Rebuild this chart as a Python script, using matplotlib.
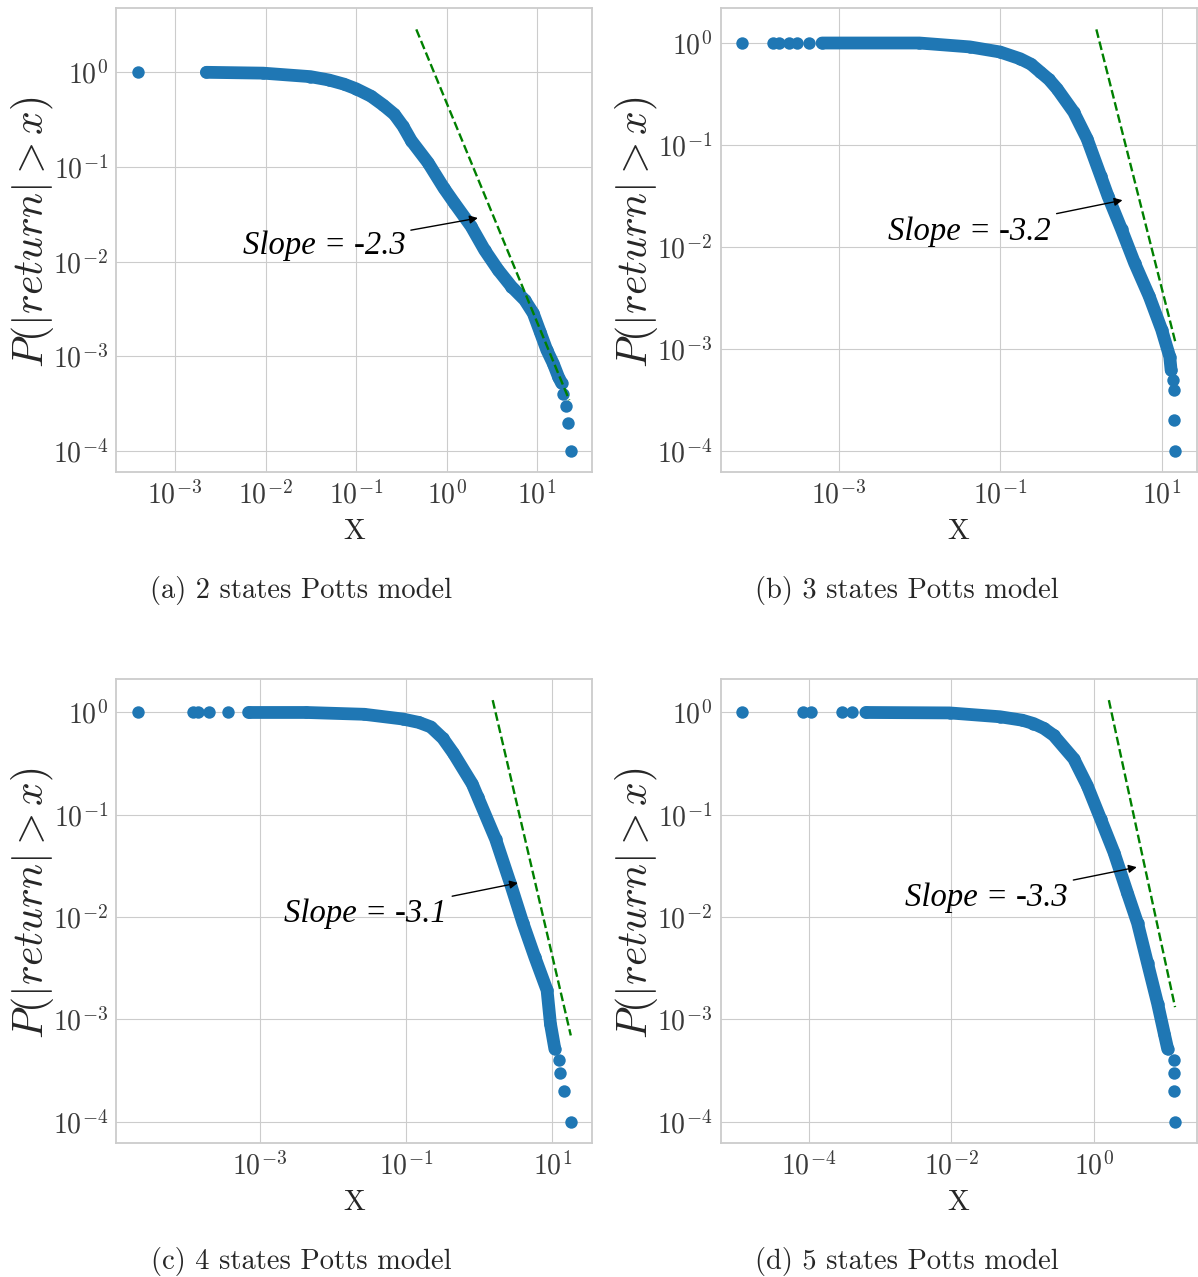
import numpy as np
import matplotlib
matplotlib.use("Agg")
from matplotlib import pyplot as plt

plt.style.use("seaborn-v0_8-whitegrid")
plt.rcParams["font.family"] = "serif"
plt.rcParams["font.serif"] = ["cmr10"]
plt.rcParams["mathtext.fontset"] = "cm"
plt.rcParams["axes.formatter.use_mathtext"] = True

blue = "#1f77b4"

# ---- (a) 2 states ----
a_dots_x = [3.88e-4, 19.5, 20.9, 21.8, 23.6]
a_dots_y = [1.0, 4e-4, 3e-4, 2e-4, 1e-4]
a_band_x = [2.22e-3, 9.4e-3, 0.0313, 0.05, 0.0735, 0.1, 0.146, 0.2, 0.265, 0.33,
            0.407, 0.625, 0.933, 1.22, 1.87, 2.63, 3.71, 5.21, 7.31, 9.08, 10.8,
            12.8, 15.1, 17.2, 18.7]
a_band_y = [1.0, 0.98, 0.90, 0.83, 0.75, 0.67, 0.56, 0.45, 0.36, 0.27,
            0.19, 0.111, 0.060, 0.0416, 0.0236, 0.0133, 0.0082, 0.00546, 0.00394,
            0.00285, 0.00182, 0.00117, 0.00084, 0.00061, 0.00052]
a_fit_x = [0.463, 22.7]
a_fit_y = [2.84, 3.45e-4]

# ---- (b) 3 states ----
b_dots_x = [6.3e-5, 1.50e-4, 1.82e-4, 2.43e-4, 3.0e-4, 4.28e-4, 13.8, 14.2, 14.4, 14.7]
b_dots_y = [1.0, 1.0, 1.0, 1.0, 1.0, 1.0, 5e-4, 4e-4, 2e-4, 1e-4]
b_band_x = [6.15e-4, 9.9e-3, 0.0417, 0.0989, 0.176, 0.24, 0.312, 0.4, 0.505, 0.813,
            1.19, 1.75, 2.16, 3.18, 4.61, 7.01, 10.0, 12.6, 13.1]
b_band_y = [1.0, 1.0, 0.916, 0.817, 0.701, 0.62, 0.52, 0.44, 0.356, 0.21,
            0.115, 0.050, 0.0316, 0.0149, 0.0070, 0.00329, 0.00155, 0.00084, 0.00062]
b_fit_x = [1.55, 14.7]
b_fit_y = [1.36, 1.19e-3]

# ---- (c) 4 states ----
c_dots_x = [2.17e-5, 1.22e-4, 1.46e-4, 2.06e-4, 3.76e-4, 12.5, 13.0, 14.6, 17.9]
c_dots_y = [1.0, 1.0, 1.0, 1.0, 1.0, 4e-4, 3e-4, 2e-4, 1e-4]
c_band_x = [7.08e-4, 4.38e-3, 0.027, 0.091, 0.15, 0.219, 0.32, 0.447, 0.81, 0.968,
            1.69, 2.67, 3.99, 5.77, 8.53, 9.48, 10.9]
c_band_y = [1.0, 1.0, 0.96, 0.863, 0.80, 0.723, 0.56, 0.40, 0.20, 0.148,
            0.0577, 0.0216, 0.00875, 0.00411, 0.00193, 0.00091, 0.000515]
c_fit_x = [1.54, 18.0]
c_fit_y = [1.32, 6.98e-4]

# ---- (d) 5 states ----
d_dots_x = [1.16e-5, 8.2e-5, 1.06e-4, 2.96e-4, 4.09e-4, 13.4, 13.6, 13.6, 14.0]
d_dots_y = [1.0, 1.0, 1.0, 1.0, 1.0, 4e-4, 3e-4, 2e-4, 1e-4]
d_band_x = [6.33e-4, 9.5e-3, 0.0485, 0.1, 0.143, 0.2, 0.275, 0.527, 0.815, 1.26, 1.94,
            2.99, 4.15, 5.74, 7.94, 9.86, 11.0]
d_band_y = [1.0, 0.99, 0.908, 0.84, 0.78, 0.70, 0.598, 0.353, 0.193, 0.0908, 0.0427,
            0.0172, 0.00875, 0.00353, 0.00143, 0.000724, 0.000515]
d_fit_x = [1.64, 13.96]
d_fit_y = [1.32, 1.32e-3]

slopes = ["-2.3", "-3.2", "-3.1", "-3.3"]
captions = ["(a) 2 states Potts model", "(b) 3 states Potts model",
            "(c) 4 states Potts model", "(d) 5 states Potts model"]
xticks = [[1e-3, 1e-2, 1e-1, 1e0, 1e1], [1e-3, 1e-1, 1e1],
          [1e-3, 1e-1, 1e1], [1e-4, 1e-2, 1e0]]
yticks = [1e-4, 1e-3, 1e-2, 1e-1, 1e0]

# arrow tip and text centre of the slope note, data coords
arrow_tip = [(2.22, 0.0289), (3.27, 0.0288), (3.41, 0.0216), (4.05, 0.0308)]
note_pos = [(0.0442, 0.0147), (0.0417, 0.01425), (0.0279, 0.0108), (0.0313, 0.0155)]

panels = [
    (a_dots_x, a_dots_y, a_band_x, a_band_y, a_fit_x, a_fit_y),
    (b_dots_x, b_dots_y, b_band_x, b_band_y, b_fit_x, b_fit_y),
    (c_dots_x, c_dots_y, c_band_x, c_band_y, c_fit_x, c_fit_y),
    (d_dots_x, d_dots_y, d_band_x, d_band_y, d_fit_x, d_fit_y),
]
caption_x = [0.2515, 0.757, 0.2515, 0.757]

fig, axes = plt.subplots(2, 2, figsize=(11.98, 12.77), dpi=100)
fig.subplots_adjust(left=0.097, right=0.999, top=0.9935, bottom=0.105,
                    wspace=0.269, hspace=0.446)

for i, ax in enumerate(axes.flat):
    dx, dy, bx, by, fx, fy = panels[i]
    ax.set_xscale("log")
    ax.set_yscale("log")
    # dense cloud of points drawn as a thick stroke plus the points themselves
    ax.plot(bx, by, color=blue, lw=9.2, solid_capstyle="round",
            solid_joinstyle="round", zorder=2)
    ax.scatter(bx, by, s=80, color=blue, zorder=2, linewidths=0)
    ax.scatter(dx, dy, s=80, color=blue, zorder=2, linewidths=0)
    ax.plot(fx, fy, color="green", ls="--", lw=1.7, zorder=3)

    ax.annotate("Slope = " + slopes[i], xy=arrow_tip[i], xytext=note_pos[i],
                ha="center", va="center", fontsize=23.5,
                family="Liberation Serif", style="italic", color="black",
                arrowprops=dict(arrowstyle="-|>", color="black", lw=1.0,
                                mutation_scale=12, shrinkA=2, shrinkB=0),
                zorder=4)

    ax.set_xticks(xticks[i])
    ax.set_yticks(yticks)
    ax.tick_params(labelsize=20, pad=6, labelcolor="#3a3a3a")
    ax.set_xlabel("X", fontsize=21, color="#262626")
    ax.set_ylabel(r"$P(|return| > x)$", fontsize=30, color="#262626")
    ax.xaxis.set_label_coords(0.5, -0.10)
    ax.yaxis.set_label_coords(-0.127, 0.517)
    for sp in ax.spines.values():
        sp.set_color("#cccccc")
        sp.set_linewidth(1.3)

    fig.text(caption_x[i], ax.get_position().y0 - 0.093, captions[i],
             ha="center", va="center", fontsize=20.5)

fig.savefig("out.png", dpi=100)
